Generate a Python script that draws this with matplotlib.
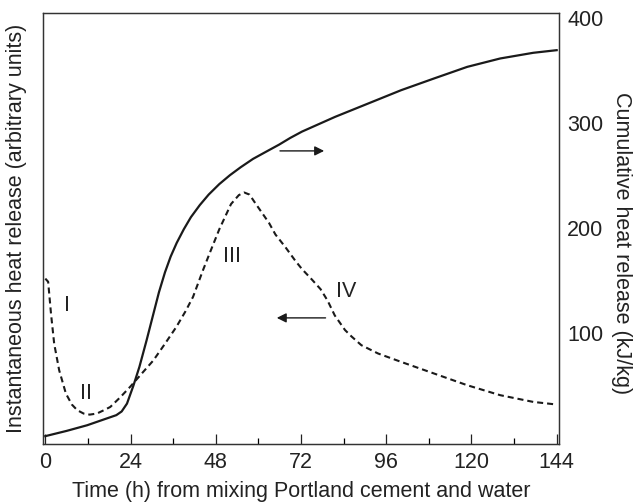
import matplotlib
matplotlib.use('agg')
import matplotlib.pyplot as plt
import matplotlib.ticker as mticker

plt.rcParams['font.family'] = ['Liberation Sans', 'DejaVu Sans']

# cumulative heat release (kJ/kg), solid line, right axis
cum_hours = [0, 6, 11.8, 17, 20, 21.5, 23, 24.8, 26.5, 28.5, 30.4, 32, 33.7,
             35.3, 37, 39, 41, 43.5, 46, 49, 52, 55, 58.5, 62, 65.8, 69,
             72.3, 81.6, 90.9, 100.2, 109.5, 118.8, 128.1, 137.4, 144]
cum_heat = [2, 7, 12.4, 18.5, 22, 25.5, 33, 50, 68, 93, 118, 139, 158, 173,
            186, 199, 210.5, 222, 232, 242, 250.5, 258, 266, 272.5, 279.5,
            286, 292, 306, 318.7, 331.4, 342.6, 353.6, 361.6, 367, 369.5]

# instantaneous heat release (arbitrary units), dashed line, left axis
inst_hours = [0, 0.8, 1.6, 2.5, 3.9, 5.8, 7.5, 9, 10.8, 12.5, 14.5, 16.5,
              18.3, 21.1, 23.9, 27, 30.4, 33.5, 36.9, 39.5, 41.6, 44.4, 46.5,
              49, 52.3, 54.5, 56, 57.5, 59.3, 63, 64.8, 67.6, 70.4, 72.3,
              75.1, 77.5, 79.5, 81.5, 84.4, 86.2, 89, 93.7, 100.2, 109.5,
              118.8, 128.1, 137.4, 143.2]
inst_heat = [152, 149, 118.7, 90, 64.8, 42.5, 32, 26.7, 23.5, 22.5, 23.5,
             26.7, 29.8, 39, 49, 61, 74, 89, 106, 121, 134.6, 160, 178,
             199, 223, 231.5, 234, 232, 223, 205, 194, 182, 169, 161, 151,
             142, 131, 117, 103, 97, 88.6, 80.7, 72.7, 61.6, 50.5, 41, 34.6,
             32.4]

x_ticks = [0, 24, 48, 72, 96, 120, 144]
right_ticks = [100, 200, 300, 400]

stages = ['I', 'II', 'III', 'IV']
stage_x = [6, 11.4, 52.7, 84.8]
stage_y = [126.7, 42.5, 172.7, 140]

ink = '#1a1a1a'
txt = '#222222'
fs = 15.5

fig = plt.figure(figsize=(6.35, 5.04), dpi=100)
ax = fig.add_axes([0.068, 0.119, 0.812, 0.855])
ax2 = ax.twinx()

ax.plot(inst_hours, inst_heat, color=ink, lw=1.5, linestyle=(0, (2.9, 1.9)))
ax2.plot(cum_hours, cum_heat, color=ink, lw=1.6)

for a in (ax, ax2):
    a.set_xlim(-0.6, 144.6)
    a.set_ylim(-5.5, 404.8)
    for s in a.spines.values():
        s.set_linewidth(0.9)
        s.set_color('#333333')

ax.set_xticks(x_ticks)
ax.xaxis.set_minor_locator(mticker.MultipleLocator(12))
ax.tick_params(axis='x', which='major', direction='in', length=7.5,
               width=0.9, labelsize=fs, pad=6, colors=txt)
ax.tick_params(axis='x', which='minor', direction='in', length=4.3,
               width=0.9)
ax.set_yticks([])
ax2.set_yticks(right_ticks)
ax2.tick_params(axis='y', length=0, labelsize=fs, pad=6, labelcolor=txt)

ax.set_xlabel('Time (h) from mixing Portland cement and water',
              fontsize=fs, color=txt)
ax.xaxis.set_label_coords(0.5, -0.111)
ax.xaxis.label.set_va('center')
ax.set_ylabel('Instantaneous heat release (arbitrary units)',
              fontsize=fs, color=txt)
ax.yaxis.set_label_coords(-0.051, 0.5)
ax.yaxis.label.set_va('center')
ax2.set_ylabel('Cumulative heat release (kJ/kg)', fontsize=fs,
               color=txt, rotation=270)
ax2.yaxis.set_label_coords(1.122, 0.466)
ax2.yaxis.label.set_va('center')

for lab, sx, sy in zip(stages, stage_x, stage_y):
    ax.text(sx, sy, lab, fontsize=fs, ha='center', va='center', color=txt)

# arrows pointing to each curve's axis
ax.annotate('', xy=(79.3, 273.6), xytext=(65.3, 273.6),
            arrowprops=dict(arrowstyle='-|>', color=ink, lw=1.0,
                            mutation_scale=14))
ax.annotate('', xy=(64.4, 114.6), xytext=(79.7, 114.6),
            arrowprops=dict(arrowstyle='-|>', color=ink, lw=1.0,
                            mutation_scale=14))

plt.savefig('out.png', dpi=100)
plt.close()
